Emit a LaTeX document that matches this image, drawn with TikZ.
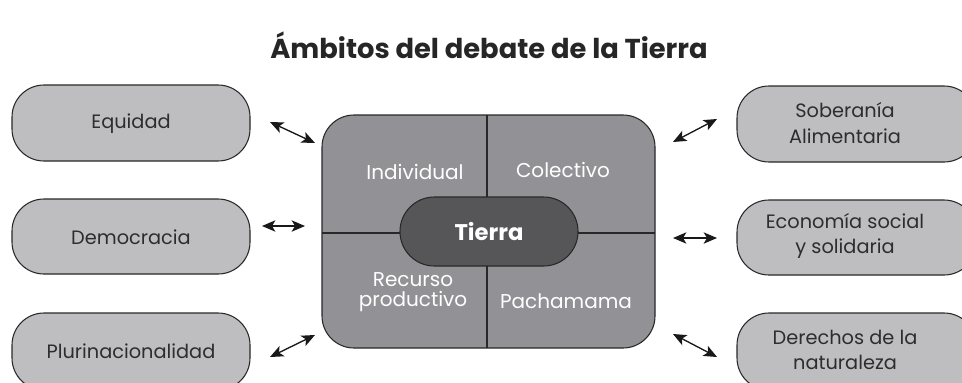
\documentclass[tikz,border=0pt]{standalone}
\usepackage{fontspec}
\setmainfont{Poppins}
\usetikzlibrary{arrows.meta}
\definecolor{sidefill}{RGB}{190,190,193}
\definecolor{midfill}{RGB}{146,146,150}
\definecolor{pillfill}{RGB}{86,86,88}
\definecolor{edge}{RGB}{40,40,40}
\definecolor{txt}{RGB}{45,45,45}
\tikzset{
  sidebox/.style={draw=edge, line width=0.8pt, fill=sidefill, rounded corners=24pt},
  sidetext/.style={text=txt, font=\fontsize{14.5}{19}\selectfont, align=center},
  quadtext/.style={text=white, font=\fontsize{15}{15.5}\selectfont, align=center},
  link/.style={draw=black!90, line width=1pt, {Stealth[length=10pt,width=8.5pt,inset=2.5pt]}-{Stealth[length=10pt,width=8.5pt,inset=2.5pt]}},
}
\begin{document}
\begin{tikzpicture}[x=0.75pt,y=-0.75pt]
\useasboundingbox (0,0) rectangle (962,382);
\fill[white] (0,0) rectangle (962,382);
\clip (0,0) rectangle (962,382);
% title
\node[font=\bfseries\fontsize{20.5}{22}\selectfont, text=black!85] (title) at (489,45) {Ámbitos del debate de la Tierra};
% side boxes
\draw[sidebox] (12,85) rectangle (250,161);
\draw[sidebox] (12,199) rectangle (250,274);
\draw[sidebox] (12,313) rectangle (250,390);
\draw[sidebox] (737,86) rectangle (976,162);
\draw[sidebox] (737,200) rectangle (976,275);
\draw[sidebox] (737,313) rectangle (976,390);
\node[sidetext] (equidad) at (131,124) {Equidad};
\node[sidetext] (democracia) at (131,237) {Democracia};
\node[sidetext] (pluri) at (131,351) {Plurinacionalidad};
\node[sidetext] (soberania) at (845,123) {Soberanía\\Alimentaria};
\node[sidetext] (economia) at (845,236) {Economía social\\y solidaria};
\node[sidetext] (derechos) at (845,350) {Derechos de la\\naturaleza};
% central box
\draw[draw=edge, line width=0.8pt, fill=midfill, rounded corners=24pt] (322,115) rectangle (655,348);
\draw[edge, line width=0.8pt] (487,115) -- (487,348);
\draw[edge, line width=0.8pt] (322,233) -- (655,233);
\node[quadtext] (individual) at (415,172) {Individual};
\node[quadtext] (colectivo) at (563,170) {Colectivo};
\node[quadtext, inner sep=1pt] (recurso) at (413,292) {Recurso\\productivo};
\node[quadtext] (pachamama) at (566,301) {Pachamama};
\node[draw=edge, line width=0.8pt, fill=pillfill, rounded corners=25.8pt, minimum width=133.5pt, minimum height=51.75pt, inner sep=0pt, text=white, font=\bfseries\fontsize{17}{18}\selectfont] (tierra) at (489,231.5) {Tierra};
% arrows
\coordinate (a1s) at (270,122); \coordinate (a1e) at (315,143);
\coordinate (a2s) at (262,226); \coordinate (a2e) at (305,226);
\coordinate (a3s) at (270,357); \coordinate (a3e) at (315,335);
\coordinate (b1s) at (673,142); \coordinate (b1e) at (717,119);
\coordinate (b2s) at (673,238); \coordinate (b2e) at (717,238);
\coordinate (b3s) at (673,334); \coordinate (b3e) at (717,357);
\draw[link] (a1s) -- (a1e);
\draw[link] (a2s) -- (a2e);
\draw[link] (a3s) -- (a3e);
\draw[link] (b1s) -- (b1e);
\draw[link] (b2s) -- (b2e);
\draw[link] (b3s) -- (b3e);
\end{tikzpicture}
\end{document}
